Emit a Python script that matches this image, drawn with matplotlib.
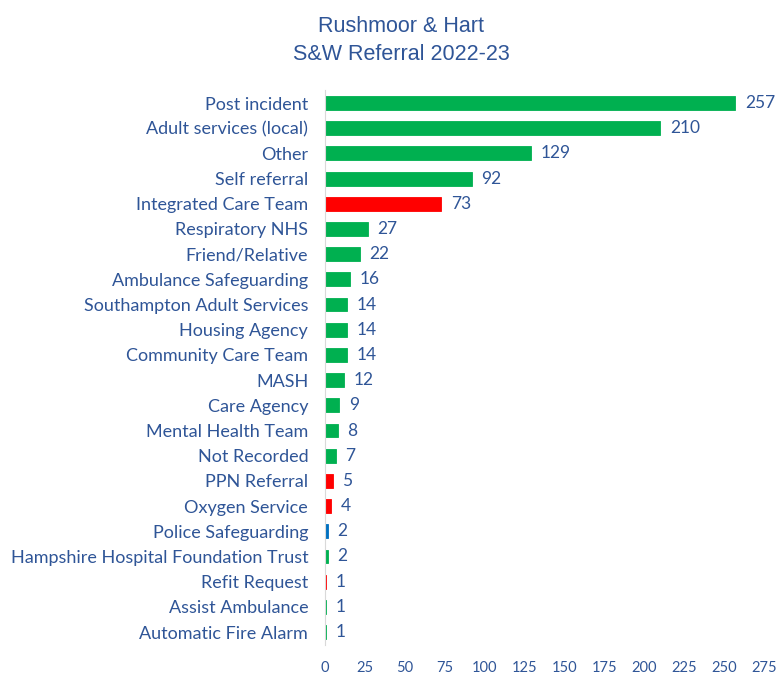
import matplotlib
matplotlib.use("Agg")
import matplotlib.pyplot as plt

# referral sources, top to bottom
sources = ["Post incident", "Adult services (local)", "Other", "Self referral",
           "Integrated Care Team", "Respiratory NHS", "Friend/Relative",
           "Ambulance Safeguarding", "Southampton Adult Services", "Housing Agency",
           "Community Care Team", "MASH", "Care Agency", "Mental Health Team",
           "Not Recorded", "PPN Referral", "Oxygen Service", "Police Safeguarding",
           "Hampshire Hospital Foundation Trust", "Refit Request", "Assist Ambulance",
           "Automatic Fire Alarm"]
counts = [257, 210, 129, 92, 73, 27, 22, 16, 14, 14, 14, 12, 9, 8, 7, 5, 4, 2, 2, 1, 1, 1]
groups = ["g", "g", "g", "g", "r", "g", "g", "g", "g", "g", "g", "g", "g", "g",
          "g", "r", "r", "b", "g", "r", "g", "g"]
ticks = [0, 25, 50, 75, 100, 125, 150, 175, 200, 225, 250, 275]

palette = {"g": "#00B050", "r": "#FF0000", "b": "#0070C0"}
txt = "#2F5597"

plt.rcParams['font.family'] = ['Lato', 'DejaVu Sans']

fig = plt.figure(figsize=(7.79, 6.75), dpi=100)
ax = fig.add_axes([0.417, 0.045, 0.564, 0.821])

ypos = list(range(len(sources)))
cols = [palette[g] for g in groups]
bars = ax.barh(ypos, counts, height=0.55, color=cols, edgecolor=cols, linewidth=0.6)
ax.set_ylim(len(sources) - 0.5, -0.5)
ax.set_xlim(0, 275)
ax.set_yticks(ypos)
ax.set_yticklabels(sources, fontsize=13, color=txt)
ax.set_xticks(ticks)
ax.set_xticklabels([str(t) for t in ticks], fontsize=10.5, color=txt)
ax.tick_params(length=0)
ax.tick_params(axis='y', pad=12)
ax.tick_params(axis='x', pad=12)

for v, y in zip(counts, ypos):
    ax.text(v + 6, y, str(v), va='center', ha='left', fontsize=12.5, color=txt)

for s in ["top", "right", "bottom"]:
    ax.spines[s].set_visible(False)
ax.spines["left"].set_color("#D9D9D9")

fig.text(0.515, 0.94, "Rushmoor & Hart\nS&W Referral 2022-23", ha='center', va='center',
         fontsize=15.5, color=txt, linespacing=1.45,
         family=['Liberation Sans Narrow', 'Liberation Sans', 'DejaVu Sans'])

fig.savefig("out.png", dpi=100)
